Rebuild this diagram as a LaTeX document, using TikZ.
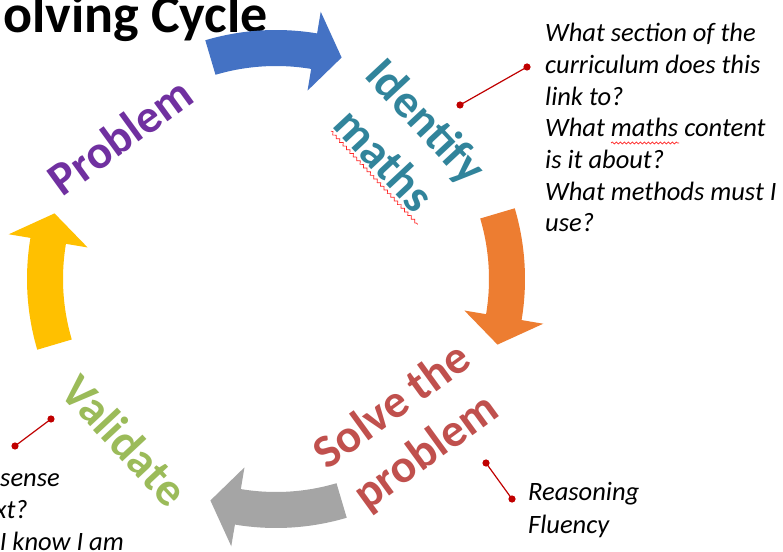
\documentclass[tikz,border=0pt]{standalone}
\usepackage{fontspec}
\setmainfont{Carlito}
\usetikzlibrary{decorations.pathmorphing,calc}
\definecolor{arrBlue}{HTML}{4472C4}
\definecolor{arrOrange}{HTML}{ED7D31}
\definecolor{arrGray}{HTML}{A5A5A5}
\definecolor{arrYellow}{HTML}{FFC000}
\definecolor{lblPurple}{HTML}{7030A0}
\definecolor{lblTeal}{HTML}{31849B}
\definecolor{lblRed}{HTML}{C0504D}
\definecolor{lblGreen}{HTML}{9BBB59}
\definecolor{callRed}{HTML}{C00000}
\newcommand\cyclearrow[2]{%
  \fill[#2] ([shift={(C)}]#1+16.5:249pt) arc[start angle=#1+16.5, end angle=#1-9.5, radius=249pt]
    -- ([shift={(C)}]#1-9.5:271pt) -- ([shift={(C)}]#1-16.5:231pt) -- ([shift={(C)}]#1-9.5:191pt)
    -- ([shift={(C)}]#1-9.5:213pt) arc[start angle=#1-9.5, end angle=#1+16.5, radius=213pt] -- cycle;}
\begin{document}
\begin{tikzpicture}[x=1pt,y=1pt,
  cyclabel/.style={font=\fontsize{47}{57}\selectfont\bfseries, align=center, inner sep=0pt},
  notetext/.style={font=\fontsize{26.5}{32}\selectfont\itshape, inner sep=0pt, anchor=base west},
  notetextr/.style={font=\fontsize{26.5}{32}\selectfont\itshape, inner sep=0pt, anchor=base east},
  callline/.style={draw=callRed, line width=1.2pt},
  spellline/.style={draw=red!85, line width=0.7pt, decorate, decoration={snake, segment length=5pt, amplitude=1.3pt}}]
\clip (0,0) rectangle (783,551);
\fill[white] (0,0) rectangle (783,551);
\coordinate (C) at (276,272);
% title
\node[font=\fontsize{54}{60}\selectfont\bfseries, anchor=base east, inner sep=0pt] (title) at (268,518) {olving Cycle};
% arrows
\cyclearrow{90}{arrBlue}
\cyclearrow{0}{arrOrange}
\cyclearrow{-90}{arrGray}
\cyclearrow{180}{arrYellow}
% labels
\node[cyclabel, text=lblPurple, rotate=36] (problem) at (120,415) {Problem};
\node[cyclabel, text=lblTeal, rotate=-47] (identify) at (406,411) {Identify\\maths};
\node[cyclabel, text=lblRed, rotate=36] (solve) at (410,121) {Solve the\\problem};
\node[cyclabel, text=lblGreen, rotate=-47] (validate) at (125,111) {Validate};
% spell-check underline under "maths"
\coordinate (w1a) at ($(identify.south west)!0.12!(identify.south east)+(-2.6,-2.4)$);
\coordinate (w1b) at ($(identify.south west)!0.96!(identify.south east)+(-2.6,-2.4)$);
\draw[spellline] (w1a) -- (w1b);
% right notes
\node[notetext] (n1) at (545,509) {What section of the};
\node[notetext] (n2) at (545,477) {curriculum does this};
\node[notetext] (n3) at (545,445.5) {link to?};
\node[notetext] (n4) at (545,414) {What maths content};
\node[notetext] (n5) at (545,382) {is it about?};
\node[notetext] (n6) at (545,350.5) {What methods must I};
\node[notetext] (n7) at (545,319) {use?};
\coordinate (w2a) at (611,408); \coordinate (w2b) at (679,408);
\draw[spellline, decoration={amplitude=1pt, segment length=4pt}] (w2a) -- (w2b);
% bottom right notes
\node[notetext] (r1) at (528,51) {Reasoning};
\node[notetext] (r2) at (528,18) {Fluency};
% bottom left notes
\node[notetextr] (l1) at (60,65) {sense};
\node[notetextr] (l2) at (28,33) {xt?};
\node[notetextr] (l3) at (124,1) {I know I am};
% callouts
\coordinate (ca1) at (460,446); \coordinate (cb1) at (527,484);
\coordinate (ca2) at (486,88);  \coordinate (cb2) at (512,52);
\coordinate (ca3) at (51,132);  \coordinate (cb3) at (15,105);
\foreach \a/\b in {ca1/cb1, ca2/cb2, ca3/cb3}{
  \draw[callline] (\a) -- (\b);
  \fill[callRed] (\a) circle (3.6pt) (\b) circle (3.6pt);
}
\end{tikzpicture}
\end{document}
